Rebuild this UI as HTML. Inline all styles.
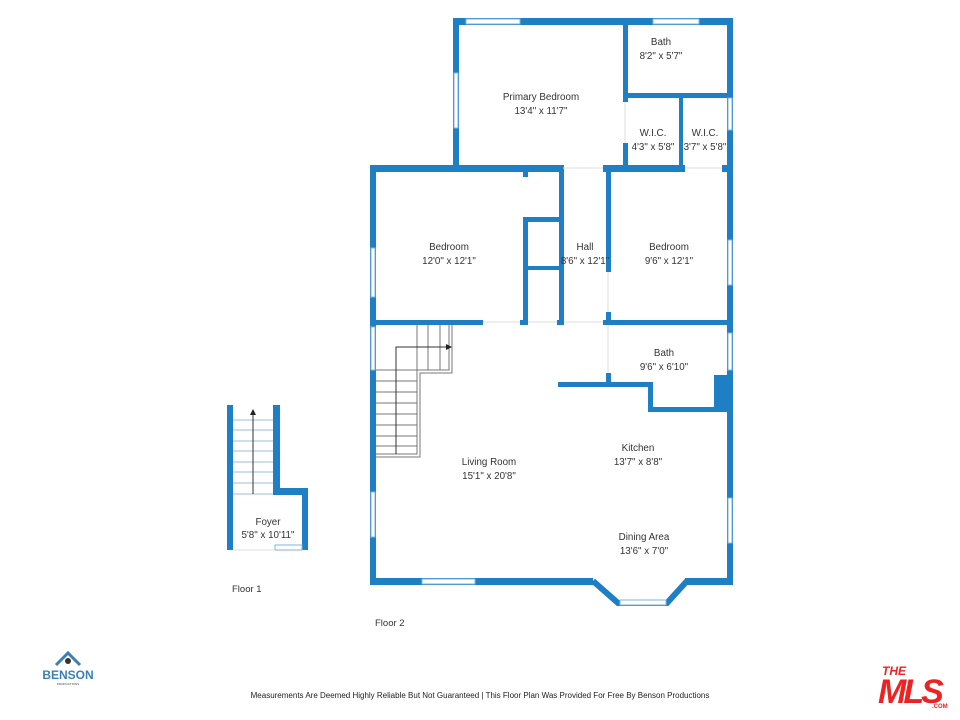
<!DOCTYPE html>
<html><head><style>
body{margin:0;background:#fff;}
svg{display:block;font-family:"Liberation Sans",sans-serif;}
</style></head><body>
<svg width="960" height="720" viewBox="0 0 960 720" xmlns="http://www.w3.org/2000/svg">
<g fill="#1f7fc4">
<rect x="453" y="18" width="280" height="7"/>
<rect x="453" y="18" width="6" height="154"/>
<rect x="727" y="18" width="6" height="565"/>
<rect x="623" y="25" width="5" height="77"/>
<rect x="623" y="143" width="5" height="27"/>
<rect x="623" y="93" width="110" height="5"/>
<rect x="679" y="93" width="4" height="77"/>
<rect x="370" y="165" width="193" height="7"/>
<rect x="603" y="165" width="82" height="7"/>
<rect x="722" y="165" width="11" height="7"/>
<rect x="370" y="165" width="6" height="420"/>
<rect x="559" y="165" width="5" height="160"/>
<rect x="523" y="172" width="5" height="5"/>
<rect x="523" y="217" width="5" height="108"/>
<rect x="523" y="217" width="41" height="5"/>
<rect x="523" y="266" width="41" height="4"/>
<rect x="606" y="170" width="5" height="102"/>
<rect x="606" y="312" width="5" height="13"/>
<rect x="370" y="320" width="113" height="5"/>
<rect x="520" y="320" width="8" height="5"/>
<rect x="557" y="320" width="7" height="5"/>
<rect x="603" y="320" width="130" height="5"/>
<rect x="606" y="373" width="5" height="9"/>
<rect x="558" y="382" width="95" height="5"/>
<rect x="648" y="382" width="5" height="30"/>
<rect x="648" y="407" width="85" height="5"/>
<rect x="714" y="375" width="19" height="37"/>
<rect x="370" y="578" width="223" height="7"/>
<rect x="685" y="578" width="48" height="7"/>
<rect x="227" y="405" width="6" height="145"/>
<rect x="273" y="405" width="7" height="90"/>
<rect x="273" y="488" width="35" height="7"/>
<rect x="302" y="488" width="6" height="62"/>
</g>
<g stroke="#1f7fc4" stroke-width="6" fill="none">
<polyline points="593,581 618,603 667,603 687,581"/>
</g>
<g fill="#fff" stroke="#7fb6dc" stroke-width="1">
<rect x="466" y="19" width="54" height="5"/>
<rect x="653" y="19" width="46" height="5"/>
<rect x="454" y="73" width="4" height="55"/>
<rect x="371" y="248" width="4" height="49"/>
<rect x="728" y="98" width="4" height="32"/>
<rect x="728" y="240" width="4" height="45"/>
<rect x="728" y="333" width="4" height="37"/>
<rect x="728" y="498" width="4" height="45"/>
<rect x="371" y="327" width="4" height="43"/>
<rect x="371" y="492" width="4" height="45"/>
<rect x="422" y="579" width="53" height="5"/>
<rect x="620" y="600" width="46" height="5"/>
<rect x="275" y="545" width="27" height="5"/>
</g>
<g stroke="#ddd" stroke-width="1" fill="none">
<line x1="483" y1="322" x2="520" y2="322"/><line x1="528" y1="322" x2="557" y2="322"/>
<line x1="564" y1="322" x2="603" y2="322"/><line x1="563" y1="168" x2="603" y2="168"/>
<line x1="685" y1="168" x2="722" y2="168"/><line x1="625" y1="102" x2="625" y2="143"/>
<line x1="608" y1="272" x2="608" y2="312"/><line x1="608" y1="325" x2="608" y2="373"/>
<line x1="233" y1="550" x2="275" y2="550"/>
</g>
<g stroke="#777" stroke-width="1" fill="none">
<path d="M452 325 V373 H420 V457 H376"/>
<path d="M449 325 V370 H417 V454 H376"/>
<line x1="417" y1="325" x2="417" y2="370"/><line x1="428" y1="325" x2="428" y2="370"/>
<line x1="440" y1="325" x2="440" y2="370"/>
<line x1="376" y1="370" x2="417" y2="370"/><line x1="376" y1="381" x2="417" y2="381"/>
<line x1="376" y1="392" x2="417" y2="392"/><line x1="376" y1="403" x2="417" y2="403"/>
<line x1="376" y1="414" x2="417" y2="414"/><line x1="376" y1="425" x2="417" y2="425"/>
<line x1="376" y1="436" x2="417" y2="436"/><line x1="376" y1="446" x2="417" y2="446"/>
<path d="M396 454 V347 H448" stroke="#333"/>
</g>
<polygon points="452,347 446,344 446,350" fill="#222"/>
<g stroke="#9bbfd8" stroke-width="1">
<line x1="233" y1="420" x2="273" y2="420"/><line x1="233" y1="430" x2="273" y2="430"/>
<line x1="233" y1="441" x2="273" y2="441"/><line x1="233" y1="451" x2="273" y2="451"/>
<line x1="233" y1="462" x2="273" y2="462"/><line x1="233" y1="472" x2="273" y2="472"/>
<line x1="233" y1="483" x2="273" y2="483"/><line x1="233" y1="494" x2="273" y2="494"/>
</g>
<line x1="253" y1="494" x2="253" y2="414" stroke="#333" stroke-width="1"/>
<polygon points="253,409 250,415 256,415" fill="#222"/>
<g font-size="9.8" fill="#333" text-anchor="middle">
<text x="541" y="100">Primary Bedroom</text><text x="541" y="114">13'4" x 11'7"</text>
<text x="661" y="45">Bath</text><text x="661" y="59">8'2" x 5'7"</text>
<text x="653" y="136">W.I.C.</text><text x="653" y="150">4'3" x 5'8"</text>
<text x="705" y="136">W.I.C.</text><text x="705" y="150">3'7" x 5'8"</text>
<text x="449" y="250">Bedroom</text><text x="449" y="264">12'0" x 12'1"</text>
<text x="585" y="250">Hall</text><text x="585" y="264">8'6" x 12'1"</text>
<text x="669" y="250">Bedroom</text><text x="669" y="264">9'6" x 12'1"</text>
<text x="664" y="356">Bath</text><text x="664" y="370">9'6" x 6'10"</text>
<text x="638" y="451">Kitchen</text><text x="638" y="465">13'7" x 8'8"</text>
<text x="489" y="465">Living Room</text><text x="489" y="479">15'1" x 20'8"</text>
<text x="644" y="540">Dining Area</text><text x="644" y="554">13'6" x 7'0"</text>
<text x="268" y="525">Foyer</text><text x="268" y="538">5'8" x 10'11"</text>
</g>
<g font-size="9.5" fill="#333">
<text x="232" y="592">Floor 1</text>
<text x="375" y="626">Floor 2</text>
</g>
<text x="480" y="698" font-size="8" fill="#222" text-anchor="middle">Measurements Are Deemed Highly Reliable But Not Guaranteed | This Floor Plan Was Provided For Free By Benson Productions</text>
<polyline points="56,665 68,653 80,665" fill="none" stroke="#3a7fb8" stroke-width="3"/>
<circle cx="68" cy="661" r="3" fill="#333"/>
<text x="68" y="679" font-size="12" font-weight="bold" fill="#3a7fb8" text-anchor="middle">BENSON</text>
<text x="68" y="685" font-size="3" fill="#444" text-anchor="middle">PRODUCTIONS</text>
<text x="882" y="675" font-size="12" font-weight="bold" fill="#e22" font-style="italic">THE</text>
<text x="878" y="703" font-size="34" font-weight="bold" fill="#e22" font-style="italic" letter-spacing="-3">MLS</text>
<text x="932" y="708" font-size="6" font-weight="bold" fill="#e22">.COM</text>
</svg>
</body></html>
